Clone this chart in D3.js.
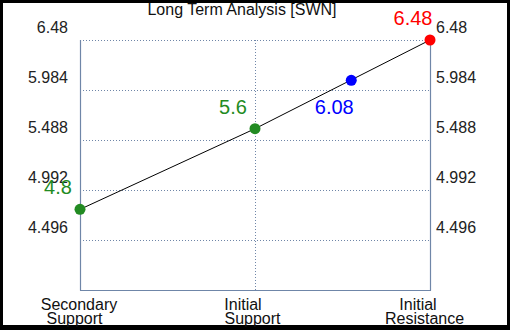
<!DOCTYPE html>
<html>
<head>
<meta charset="utf-8">
<script src="https://cdn.jsdelivr.net/npm/d3@7"></script>
<style>
  html, body { margin: 0; padding: 0; background: #000; }
  svg { display: block; }
  text { font-family: "Liberation Sans", Arial, sans-serif; }
</style>
</head>
<body>
<script>
// ---- data ----
const title = "Long Term Analysis [SWN]";
const categories = ["Secondary\nSupport", "Initial\nSupport", "Initial\nResistance"];
const lineValues = [4.8, 5.6, 6.48];           // value at each category
const pointPositions = [0, 1, 1.55, 2];        // category index of each marker
const pointValues = [4.8, 5.6, 6.08, 6.48];
const pointColors = ["#228B22", "#228B22", "#0000FF", "#FF0000"];
const pointLabels = ["4.8", "5.6", "6.08", "6.48"];
const yTicks = [4.496, 4.992, 5.488, 5.984, 6.48];
const yTickLabels = ["4.496", "4.992", "5.488", "5.984", "6.48"];
const yDomain = [4.0, 6.48];

// ---- layout ----
const W = 510, H = 330;
const plot = { left: 80, right: 430, top: 40, bottom: 290 };
const axisColor = "#6f86a8";

const svg = d3.select("body").append("svg").attr("width", W).attr("height", H);
svg.append("rect").attr("x", 0).attr("y", 0).attr("width", W).attr("height", H).attr("fill", "#000");
svg.append("rect").attr("x", 3).attr("y", 3).attr("width", 504).attr("height", 322).attr("fill", "#fff");

const x = d3.scaleLinear().domain([0, categories.length - 1]).range([plot.left, plot.right]);
const y = d3.scaleLinear().domain(yDomain).range([plot.bottom, plot.top]);

// horizontal dotted grid
svg.append("g").selectAll("line").data(yTicks).join("line")
  .attr("x1", plot.left).attr("x2", plot.right)
  .attr("y1", d => Math.round(y(d)) + 0.5).attr("y2", d => Math.round(y(d)) + 0.5)
  .attr("stroke", axisColor).attr("stroke-width", 1).attr("stroke-dasharray", "1,2");

// vertical dotted grid at middle category
svg.append("g").selectAll("line").data([1]).join("line")
  .attr("x1", d => Math.round(x(d)) + 0.5).attr("x2", d => Math.round(x(d)) + 0.5)
  .attr("y1", plot.top).attr("y2", plot.bottom)
  .attr("stroke", axisColor).attr("stroke-width", 1).attr("stroke-dasharray", "1,2");

// solid frame lines: left, right, bottom
const frame = svg.append("g").attr("stroke", axisColor).attr("stroke-width", 1.2);
frame.append("line").attr("x1", plot.left + 0.5).attr("x2", plot.left + 0.5).attr("y1", plot.top).attr("y2", plot.bottom + 0.5);
frame.append("line").attr("x1", plot.right + 0.5).attr("x2", plot.right + 0.5).attr("y1", plot.top).attr("y2", plot.bottom + 0.5);
frame.append("line").attr("x1", plot.left).attr("x2", plot.right + 1).attr("y1", plot.bottom + 0.5).attr("y2", plot.bottom + 0.5);

// y tick labels (left and right), drawn above the grid lines
const tickFont = 16;
svg.append("g").selectAll("text").data(yTicks).join("text")
  .attr("x", 68).attr("y", d => y(d) - 7)
  .attr("text-anchor", "end").attr("font-size", tickFont).attr("fill", "#222")
  .text((d, i) => yTickLabels[i]);
svg.append("g").selectAll("text").data(yTicks).join("text")
  .attr("x", 436).attr("y", d => y(d) - 7)
  .attr("text-anchor", "start").attr("font-size", tickFont).attr("fill", "#222")
  .text((d, i) => yTickLabels[i]);

// title
svg.append("text").attr("x", 242).attr("y", 15).attr("text-anchor", "middle")
  .attr("font-size", 16).attr("fill", "#111").text(title);

// x category labels (two lines)
const lineDx = [[-1, -5.5], [-12, -2.5], [-12, -5.5]];
const xl = svg.append("g");
categories.forEach((c, i) => {
  c.split("\n").forEach((ln, j) => {
    xl.append("text")
      .attr("x", x(i) + lineDx[i][j]).attr("y", j === 0 ? 309.5 : 324)
      .attr("text-anchor", "middle").attr("font-size", 16).attr("fill", "#111")
      .text(ln);
  });
});

// black line through the values
const line = d3.line().x((d, i) => x(i)).y(d => y(d));
svg.append("path").datum(lineValues).attr("d", line)
  .attr("fill", "none").attr("stroke", "#000").attr("stroke-width", 1);

// markers
svg.append("g").selectAll("circle").data(pointValues).join("circle")
  .attr("cx", (d, i) => x(pointPositions[i])).attr("cy", d => y(d))
  .attr("r", 5.5).attr("fill", (d, i) => pointColors[i]);

// value labels
const labelOffsets = [[-22, -15], [-22, -15], [-17, 34], [-17, -15]];
svg.append("g").selectAll("text").data(pointValues).join("text")
  .attr("x", (d, i) => x(pointPositions[i]) + labelOffsets[i][0])
  .attr("y", (d, i) => y(d) + labelOffsets[i][1])
  .attr("text-anchor", "middle").attr("font-size", 20)
  .attr("fill", (d, i) => pointColors[i])
  .text((d, i) => pointLabels[i]);
</script>
</body>
</html>
